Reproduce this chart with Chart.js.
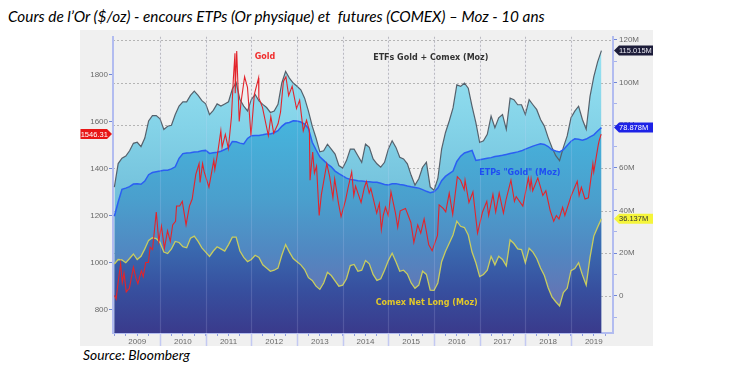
<!DOCTYPE html>
<html><head><meta charset="utf-8">
<script src="https://cdn.jsdelivr.net/npm/chart.js@4/dist/chart.umd.min.js"></script>
<style>
html,body{margin:0;padding:0;background:#fff;width:732px;height:373px;overflow:hidden;}
#title{position:absolute;left:8px;top:8px;font-family:'Lato';font-style:italic;font-size:15px;line-height:16px;white-space:pre;color:#000;}
#panel{position:absolute;left:80px;top:30px;width:573px;height:316px;background:#f0f0f0;}
#src{position:absolute;left:83px;top:347px;font-family:'Lato';font-style:italic;font-size:13px;line-height:15px;white-space:pre;color:#000;}
canvas{display:block;}
</style></head><body>
<div id="title">Cours de l’Or ($/oz) - encours ETPs (Or physique) et  futures (COMEX) – Moz - 10 ans</div>
<div id="panel"><canvas id="c" width="573" height="316"></canvas></div>
<div id="src">Source: Bloomberg</div>
<script>
// fit header/footer text widths to the reference
(function(){
  const fit=(id,w)=>{const el=document.getElementById(id);const cur=el.getBoundingClientRect().width;const fs=parseFloat(getComputedStyle(el).fontSize);el.style.fontSize=(fs*w/cur).toFixed(2)+'px';};
  fit('title',537); fit('src',107);
})();

// ---------- DATA ----------
// monthly series (Moz), first month 2009-01, last month 2019-09
const firstMonth = '2009-01';
const monthCount = 129;
const mozMonths = [];
(function(){ const [y0,m0]=firstMonth.split('-').map(Number); for(let k=0;k<monthCount;k++){const t=(m0-1)+k; mozMonths.push((y0+Math.floor(t/12))+'-'+String(t%12+1).padStart(2,'0'));} })();

const totalMoz = [51,62,64.5,65.5,68,71.5,72,70,74,82,84.5,84.5,
83,78,79.5,80,85,89,91,91,94,96,94,91.5,
90,85,87,90,89,90,91,97,100,92,89,86.7,
92.1,94.4,91.4,89.8,88.3,86,86.7,89.8,99.8,105.2,102.1,99.8,
98.3,96.6,92.7,86.6,79.6,74,67.5,68,71.1,68.8,66.5,61.1,
59.9,63.4,68.8,68.8,65.7,62.6,71.1,69.6,64.2,61.9,60.3,62.6,
68.8,72.7,69.6,65,64.2,61.9,56.5,51.9,54.9,60.3,62.6,51.1,
49.5,54.9,68.8,76.5,82,88.1,98.9,98.2,99.7,97.4,88.9,81.2,
71.9,72.7,75.7,84.3,78.8,83.5,85,78.1,92.7,92,89.6,89.6,
85,92,89.6,87.3,82.7,79.6,74.2,69.6,65.7,63.4,69.6,75,
83.5,86.6,88.9,82.7,78.1,93.5,102.8,109.7,115.015];

const etpMoz = [37.3,44,49.9,50.5,51.2,52.4,52.6,52.3,53.8,56.8,57.8,58.2,
58.5,58.9,58.9,59.5,60.5,64.5,66.7,67,67.1,67.4,67.6,68,
68.2,66.8,67.1,67.3,67.8,68.6,69.5,72.4,72.2,71.6,71.2,73.8,
75.1,75.2,75.2,75.5,75.9,75.9,76.5,77.4,79.5,80.9,81.3,82.1,
82,81.5,80.5,78.5,72,68.5,65.2,63.5,61.8,60.5,58.5,57.3,
56.2,55.2,54.6,54.3,54,53.8,53.6,53.5,53.3,53.2,52.8,52.2,
52,52.5,52.6,52.2,52,51.5,51.1,50.8,50.5,49.8,49,48.3,
48.8,50.5,54,56,57.3,58.5,63,65.5,67,67.6,68.2,63.5,
63.8,64.2,64.5,64.8,65.3,65.6,65.9,66.3,66.7,67.1,67.5,68,
68.8,69.5,70.2,70.8,71.3,71,70,68.5,67.9,67.5,68.5,70.5,
72.5,73.6,73.4,73,73.5,74.5,75.5,77.3,78.878];

const comexMoz = [14.9,17,16.8,15.5,17.5,19.6,17,18.5,22,26,27.2,26.8,
25,20.5,19.8,22,25.5,25,23,22.5,27,28,25.5,22.5,
20.5,18.5,21,23,22,21,24,27.5,27.5,21,18,16,
17,19,18,14.5,13,11.5,12,13,19,24,20.5,17.5,
16,14.5,12.3,8.5,7.2,4.5,3,6,11,9.5,7,4.5,
5,8,14.2,14.7,11.5,12,16.5,15,10,7.2,8,12,
16.5,20,16,11.5,12,10.2,6,3.5,5,11.5,10,2.6,
2.5,6,16,20.8,24.6,28.5,35,32.6,32,28.5,20.5,15.5,
9,10,12,18.5,14.5,18.5,17,14,26.2,24.5,22,21.7,
15.5,22.3,20.5,17.5,13,9.5,3.8,-0.5,-2.8,-4.8,1.5,3.5,
11.8,12.8,15.5,9.8,5,18,28,32.2,36.137];

// gold price ($/oz)
const goldDates = ['2009-01-02','2009-01-15','2009-02-02','2009-02-20','2009-03-05','2009-03-19','2009-04-06','2009-05-01','2009-05-15','2009-06-02','2009-06-24','2009-07-08','2009-08-05','2009-08-20','2009-09-08','2009-09-30','2009-10-14','2009-11-02','2009-12-02','2009-12-22',
'2010-01-12','2010-02-05','2010-03-02','2010-03-24','2010-04-12','2010-05-05','2010-05-13','2010-06-07','2010-06-28','2010-07-28','2010-08-24','2010-09-15','2010-10-14','2010-11-09','2010-11-17','2010-12-07','2010-12-20',
'2011-01-27','2011-02-18','2011-03-07','2011-03-15','2011-04-08','2011-05-02','2011-05-12','2011-06-07','2011-07-01','2011-07-26','2011-08-10','2011-08-23','2011-08-25','2011-09-06','2011-09-26','2011-10-10','2011-11-08','2011-12-01','2011-12-29',
'2012-01-25','2012-02-28','2012-03-01','2012-03-30','2012-05-16','2012-06-05','2012-06-28','2012-08-02','2012-08-22','2012-09-14','2012-10-04','2012-10-26','2012-11-23','2012-12-28',
'2013-01-22','2013-02-20','2013-03-18','2013-04-10','2013-04-15','2013-05-06','2013-05-20','2013-06-06','2013-06-27','2013-07-15','2013-08-27','2013-09-19','2013-10-15','2013-10-29','2013-11-29','2013-12-19',
'2014-01-24','2014-02-14','2014-03-14','2014-03-31','2014-04-14','2014-05-28','2014-06-24','2014-07-10','2014-08-01','2014-08-14','2014-09-30','2014-10-21','2014-11-06','2014-11-21','2014-12-09','2014-12-31',
'2015-01-22','2015-02-27','2015-03-17','2015-04-06','2015-05-18','2015-06-30','2015-07-24','2015-08-24','2015-09-17','2015-10-14','2015-11-20','2015-12-17',
'2016-01-29','2016-02-11','2016-03-15','2016-04-04','2016-05-02','2016-05-30','2016-07-06','2016-08-01','2016-08-30','2016-09-06','2016-10-07','2016-11-08','2016-12-15',
'2017-01-24','2017-02-27','2017-03-14','2017-04-17','2017-05-09','2017-06-06','2017-07-10','2017-08-01','2017-09-08','2017-10-06','2017-10-20','2017-12-12',
'2018-01-25','2018-02-08','2018-02-16','2018-03-01','2018-04-11','2018-05-21','2018-06-14','2018-07-19','2018-08-16','2018-09-06','2018-09-27','2018-10-26','2018-11-13','2018-12-31',
'2019-01-31','2019-02-20','2019-03-07','2019-03-25','2019-04-23','2019-05-20','2019-06-25','2019-07-02','2019-07-19','2019-08-07','2019-08-13','2019-08-30'];
const goldPrices = [860,845,925,995,915,955,875,890,930,980,930,910,965,940,1000,1000,1065,1055,1215,1090,
1155,1060,1135,1090,1160,1175,1240,1240,1260,1160,1240,1270,1375,1420,1340,1420,1385,
1320,1385,1435,1395,1470,1560,1490,1545,1485,1620,1780,1890,1720,1900,1600,1680,1790,1745,1540,
1715,1785,1700,1660,1540,1620,1550,1590,1640,1770,1790,1710,1750,1655,
1690,1560,1605,1560,1350,1470,1380,1410,1200,1290,1420,1365,1275,1355,1250,1195,
1265,1320,1385,1285,1325,1255,1320,1345,1295,1315,1210,1250,1140,1200,1235,1200,
1300,1210,1150,1220,1230,1170,1085,1160,1125,1185,1075,1050,
1115,1245,1230,1215,1295,1205,1365,1350,1310,1350,1255,1300,1125,
1215,1260,1200,1290,1215,1295,1210,1270,1350,1260,1280,1240,
1360,1315,1355,1305,1360,1285,1305,1220,1175,1200,1185,1235,1200,1280,
1320,1345,1285,1320,1270,1275,1420,1385,1440,1500,1515,1546.31];

// axes
const yearLabels = [2009,2010,2011,2012,2013,2014,2015,2016,2017,2018,2019];
const goldTicks = [800,1000,1200,1400,1600,1800];
const mozTicks = [-10,0,10,20,30,40,50,60,70,80,90,100,110,120];
const mozGridTicks = [0,20,40,60,80,100,120];
const seriesLabels = {gold:'Gold', total:'ETFs Gold + Comex (Moz)', etp:'ETPs "Gold" (Moz)', comex:'Comex Net Long (Moz)'};

// ---------- helpers ----------
function monthToYear(s){const [y,m]=s.split('-').map(Number);return y+(m-1)/12;}
function dateToYear(s){const [y,m,d]=s.split('-').map(Number);const t0=Date.UTC(y,0,1),t1=Date.UTC(y+1,0,1);return y+(Date.UTC(y,m-1,d)-t0)/(t1-t0);}
const mozX = mozMonths.map(monthToYear);
const pts = (xs, ys) => xs.map((x,i)=>({x, y:ys[i]}));

function grad(chart, stops){
  const a = chart.chartArea; if(!a) return 'rgba(0,0,0,0)';
  const g = chart.ctx.createLinearGradient(0,a.top,0,a.bottom);
  stops.forEach(([f,c])=>g.addColorStop(f,c)); return g;
}
const totalStops = [[0,'#9be5f4'],[0.3,'#84d3e8'],[0.6,'#6fbcd8'],[1,'#5d95c4']];
const etpStops = [[0,'#4cc0e6'],[0.3,'#46b3dc'],[0.55,'#4a9fcd'],[0.73,'#5187c1'],[0.88,'#6474b4'],[1,'#6b6cae']];
const comexStops = [[0,'#4aa0d2'],[0.5,'#4389c6'],[0.7,'#3a6cb1'],[0.85,'#37509f'],[1,'#3a3a8c']];

const overlay = {
  id:'overlay',
  beforeDraw(chart){
    const {ctx, chartArea:a, scales} = chart;
    ctx.save();
    ctx.strokeStyle='rgba(140,140,140,0.6)'; ctx.lineWidth=1; ctx.setLineDash([2,2]);
    yearLabels.slice(1).forEach(y=>{const px=Math.round(scales.x.getPixelForValue(y))+0.5;ctx.beginPath();ctx.moveTo(px,a.top);ctx.lineTo(px,a.bottom);ctx.stroke();});
    mozGridTicks.forEach(v=>{const py=Math.round(scales.yR.getPixelForValue(v))+0.5;ctx.beginPath();ctx.moveTo(a.left,py);ctx.lineTo(a.right,py);ctx.stroke();});
    ctx.restore();
  },
  afterDatasetsDraw(chart){
    const {ctx, chartArea:a, scales} = chart;
    ctx.save();
    ctx.strokeStyle='rgba(215,220,255,0.16)'; ctx.lineWidth=1.2;
    yearLabels.slice(1).forEach(y=>{const px=Math.round(scales.x.getPixelForValue(y))+0.5;ctx.beginPath();ctx.moveTo(px,a.top);ctx.lineTo(px,a.bottom);ctx.stroke();});
    ctx.strokeStyle='#c3c9f3'; ctx.lineWidth=1.5;
    yearLabels.slice(1).forEach(y=>{const px=Math.round(scales.x.getPixelForValue(y))+0.5;ctx.beginPath();ctx.moveTo(px,a.bottom);ctx.lineTo(px,chart.height);ctx.stroke();});
    ctx.restore();
  },
  afterDraw(chart){
    const {ctx, chartArea:a, scales} = chart;
    const x=scales.x, yL=scales.yL, yR=scales.yR;
    ctx.save();
    ctx.font='bold 8px "DejaVu Sans"'; ctx.textAlign='center'; ctx.textBaseline='middle';
    ctx.fillStyle='#f02c2c'; ctx.fillText(seriesLabels.gold, x.getPixelForValue(2012.3), yL.getPixelForValue(1876));
    ctx.fillStyle='#333333'; ctx.fillText(seriesLabels.total, x.getPixelForValue(2015.93), yR.getPixelForValue(111.6));
    ctx.fillStyle='#1f4ef2'; ctx.fillText(seriesLabels.etp, x.getPixelForValue(2017.88), yR.getPixelForValue(57.7));
    ctx.fillStyle='#e2c82a'; ctx.fillText(seriesLabels.comex, x.getPixelForValue(2015.84), yR.getPixelForValue(-3.4));
    ctx.font='7.5px "Liberation Sans"';
    const rtag=(val,bg,fg)=>{const y=yR.getPixelForValue(val);const l=a.right+1,r=chart.width;
      ctx.fillStyle=bg;ctx.beginPath();ctx.moveTo(l,y);ctx.lineTo(l+5,y-5);ctx.lineTo(r,y-5);ctx.lineTo(r,y+5);ctx.lineTo(l+5,y+5);ctx.closePath();ctx.fill();
      ctx.fillStyle=fg;ctx.textAlign='left';ctx.fillText(val.toFixed(3)+'M',l+5,y+0.5);};
    rtag(totalMoz[totalMoz.length-1],'#1d1d3a','#e8e8f0');
    rtag(etpMoz[etpMoz.length-1],'#1d22e6','#ffffff');
    rtag(comexMoz[comexMoz.length-1],'#f5f53a','#333333');
    const gv=goldPrices[goldPrices.length-1], gy=yL.getPixelForValue(gv);
    const gl=0.5, gr=a.left-1;
    ctx.fillStyle='#e81616';ctx.beginPath();ctx.moveTo(gl,gy-5);ctx.lineTo(gr-5,gy-5);ctx.lineTo(gr,gy);ctx.lineTo(gr-5,gy+5);ctx.lineTo(gl,gy+5);ctx.closePath();ctx.fill();
    ctx.fillStyle='#ffffff';ctx.textAlign='center';ctx.fillText(gv.toFixed(2),(gl+gr-4)/2,gy+0.5);
    ctx.restore();
  }
};

const tickFont = {family:'Liberation Sans', size:8};
const xTicks = [];
yearLabels.forEach(y=>[0,0.25,0.5,0.75].forEach(q=>xTicks.push(y+q)));

new Chart(document.getElementById('c'), {
  type:'line',
  data:{datasets:[
    {label:'Gold', data:pts(goldDates.map(dateToYear),goldPrices), yAxisID:'yL', borderColor:'#e3242b', borderWidth:1.1, pointRadius:0, fill:false, tension:0},
    {label:'Comex', data:pts(mozX,comexMoz), yAxisID:'yR', borderColor:'#c8cd5f', borderWidth:1.3, pointRadius:0, fill:'start', tension:0, backgroundColor:c=>grad(c.chart,comexStops)},
    {label:'ETP', data:pts(mozX,etpMoz), yAxisID:'yR', borderColor:'#2b5ff2', borderWidth:1.5, pointRadius:0, fill:'start', tension:0, backgroundColor:c=>grad(c.chart,etpStops)},
    {label:'Total', data:pts(mozX,totalMoz), yAxisID:'yR', borderColor:'#55616c', borderWidth:1.2, pointRadius:0, fill:'start', tension:0, backgroundColor:c=>grad(c.chart,totalStops)}
  ]},
  options:{
    responsive:false, animation:false, devicePixelRatio:1,
    layout:{padding:{top:3,left:0,right:0,bottom:0}},
    plugins:{legend:{display:false}, tooltip:{enabled:false}, filler:{drawTime:'beforeDatasetsDraw'}},
    scales:{
      x:{type:'linear', min:2008.97, max:2019.92,
        afterBuildTicks:s=>{s.ticks=xTicks.filter(v=>v>=s.min&&v<=s.max).map(v=>({value:v}));},
        afterFit:s=>{s.height=13;},
        ticks:{autoSkip:false, maxRotation:0, minRotation:0, padding:1, font:tickFont, color:'#6a6a6a',
          callback:v=>(Math.abs(v%1-0.5)<1e-6)?String(Math.floor(v)):''},
        grid:{drawOnChartArea:false, tickLength:3, tickColor:'#8c9be0'},
        border:{color:'#b2bcf0', width:2}},
      yL:{type:'linear', position:'left', min:700, max:1960,
        afterBuildTicks:s=>{s.ticks=goldTicks.map(v=>({value:v}));},
        afterFit:s=>{s.width=33;},
        ticks:{autoSkip:false, padding:1, font:tickFont, color:'#6a6a6a', callback:v=>String(v)},
        grid:{drawOnChartArea:false, tickLength:4, tickColor:'#6f86d6'},
        border:{color:'#b2bcf0', width:2}},
      yR:{type:'linear', position:'right', min:-17.46, max:121.48,
        afterBuildTicks:s=>{s.ticks=mozTicks.map(v=>({value:v}));},
        afterFit:s=>{s.width=40;},
        ticks:{autoSkip:false, padding:2, font:tickFont, color:'#6a6a6a',
          callback:v=>v%20===0?(v===0?'0':v+'M'):''},
        grid:{drawOnChartArea:false, tickLength:4, tickColor:c=>(c.tick&&c.tick.value%20===0)?'#6f86d6':'#a6b2ea'},
        border:{color:'#b2bcf0', width:2}}
    }
  },
  plugins:[overlay]
});
</script>
</body></html>
